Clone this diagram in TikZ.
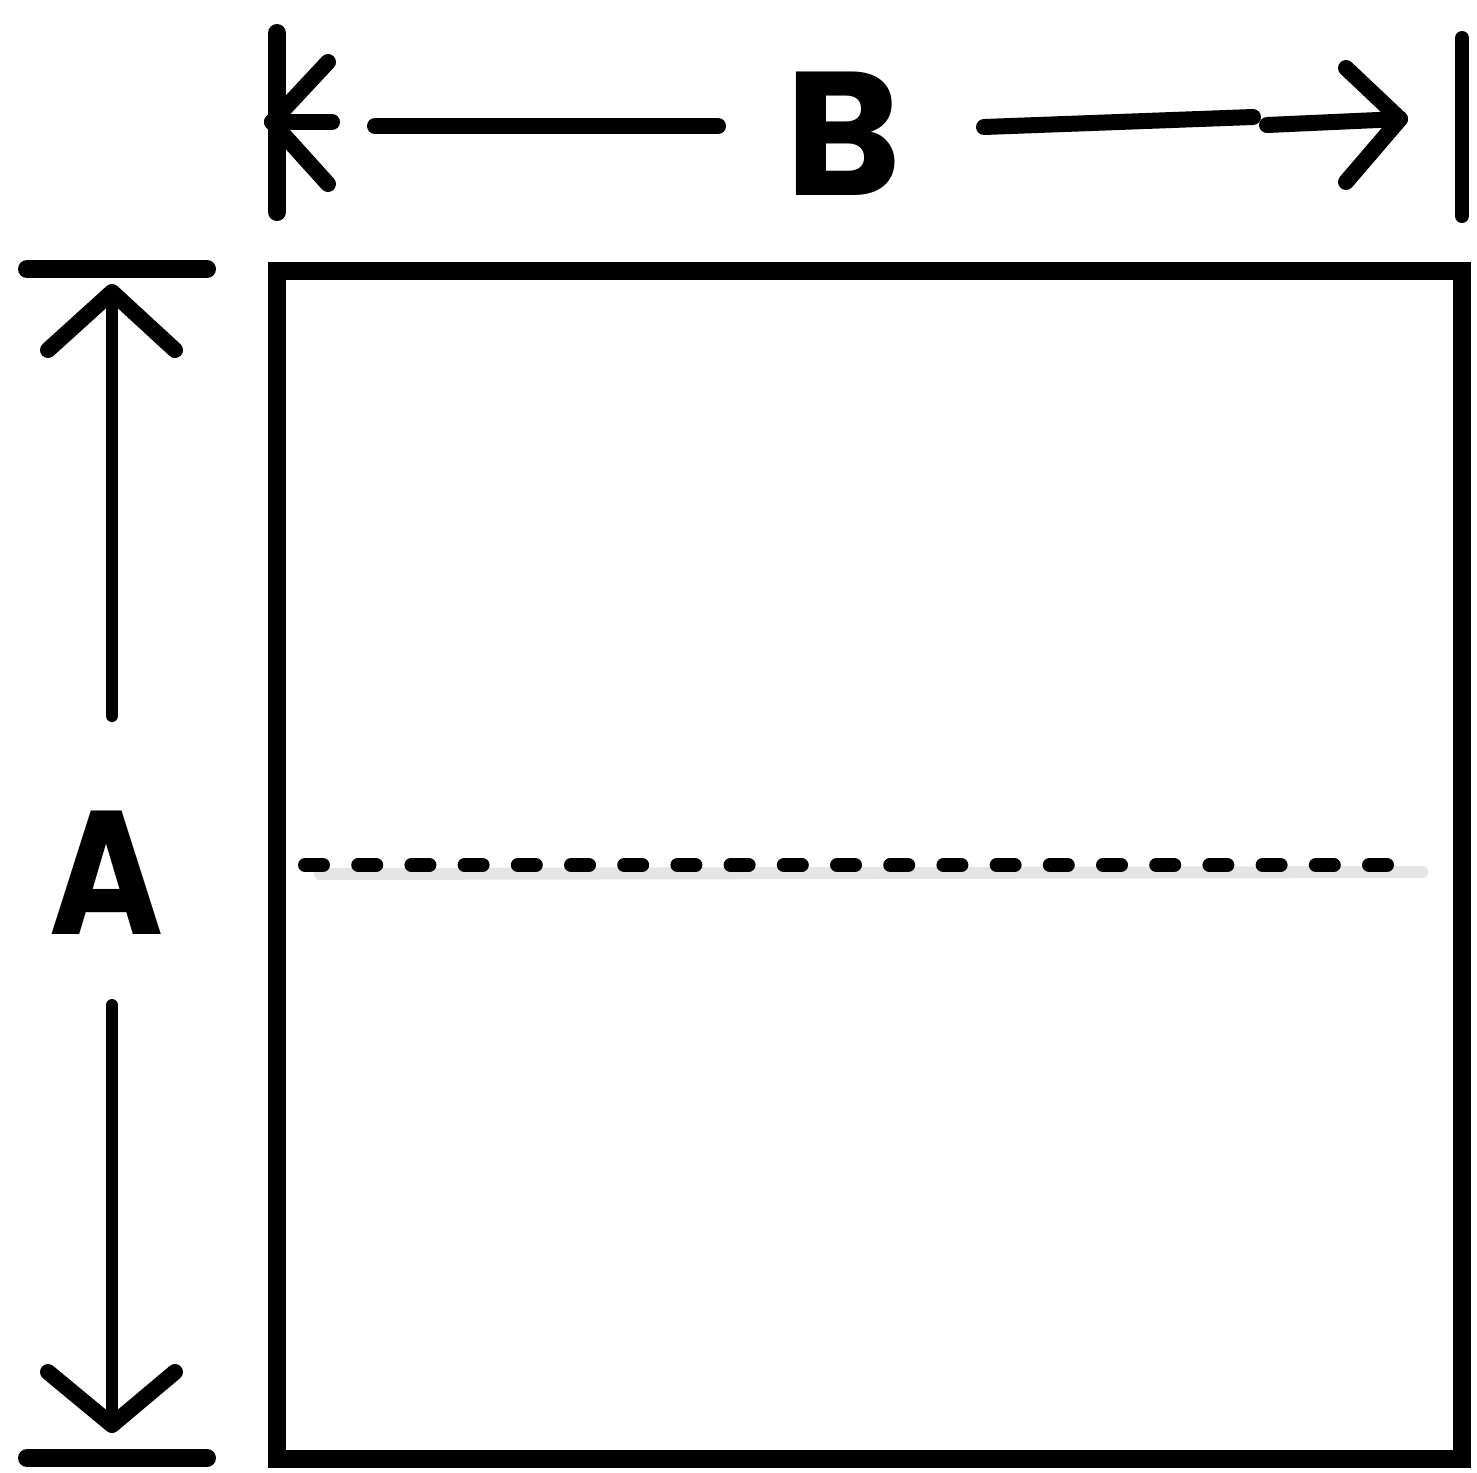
\documentclass[tikz,border=0pt]{standalone}
\usepackage{fontspec}
\setmainfont{Poppins}
\begin{document}
\begin{tikzpicture}[x=0.5pt,y=-0.5pt,
  heavy/.style={line width=9pt,line cap=round,line join=round},
  medium/.style={line width=8pt,line cap=round,line join=round},
  thin/.style={line width=6pt,line cap=round,line join=round},
  lbl/.style={font=\fontsize{88}{88}\selectfont\bfseries,inner sep=0pt}]
\useasboundingbox (0,0) rectangle (1477,1472);
% frame
\coordinate (rtl) at (277,271);
\coordinate (rbr) at (1462,1459);
\draw[line width=9pt,line join=miter] (rtl) rectangle (rbr);
% dashed centre line with faint shadow
\coordinate (sh1) at (320,874);
\coordinate (sh2) at (1422,872);
\draw[line width=6pt,gray!20,line cap=round] (sh1) -- (sh2);
\coordinate (d1) at (305,865);
\coordinate (d2) at (1392,865);
\draw[line width=7pt,line cap=round,dash pattern=on 9pt off 17.6pt] (d1) -- (d2);
% left dimension
\coordinate (lt1) at (27,269); \coordinate (lt2) at (207,269);
\coordinate (lb1) at (27,1458); \coordinate (lb2) at (207,1458);
\draw[heavy] (lt1) -- (lt2);
\draw[heavy] (lb1) -- (lb2);
\coordinate (atip) at (112,292); \coordinate (aend) at (112,716);
\draw[thin] (atip) -- (aend);
\draw[medium] (48,350) -- (atip) -- (175,350);
\coordinate (btip) at (112,1425); \coordinate (bend) at (112,1005);
\draw[thin] (btip) -- (bend);
\draw[medium] (48,1372) -- (btip) -- (175,1372);
\node[lbl,xscale=0.88] (A) at (107,873) {A};
% top dimension
\coordinate (vl1) at (277,33); \coordinate (vl2) at (277,212);
\coordinate (vr1) at (1462,38); \coordinate (vr2) at (1462,216);
\draw[line width=9pt,line cap=round] (vl1) -- (vl2);
\draw[line width=7pt,line cap=round] (vr1) -- (vr2);
\coordinate (ltip) at (272,122); \coordinate (lstub) at (332,122);
\draw[medium] (ltip) -- (lstub);
\draw[medium] (328,62) -- (ltip) -- (328,184);
\coordinate (ll1) at (375,126); \coordinate (ll2) at (718,126);
\draw[medium] (ll1) -- (ll2);
\node[lbl] (B) at (843,134) {B};
\coordinate (rl1) at (984,127); \coordinate (rl2) at (1253,117);
\draw[medium] (rl1) -- (rl2);
\coordinate (rs1) at (1267,125); \coordinate (rtip) at (1400,119);
\draw[medium] (rs1) -- (rtip);
\draw[medium] (1346,68) -- (rtip) -- (1346,182);
\end{tikzpicture}
\end{document}
